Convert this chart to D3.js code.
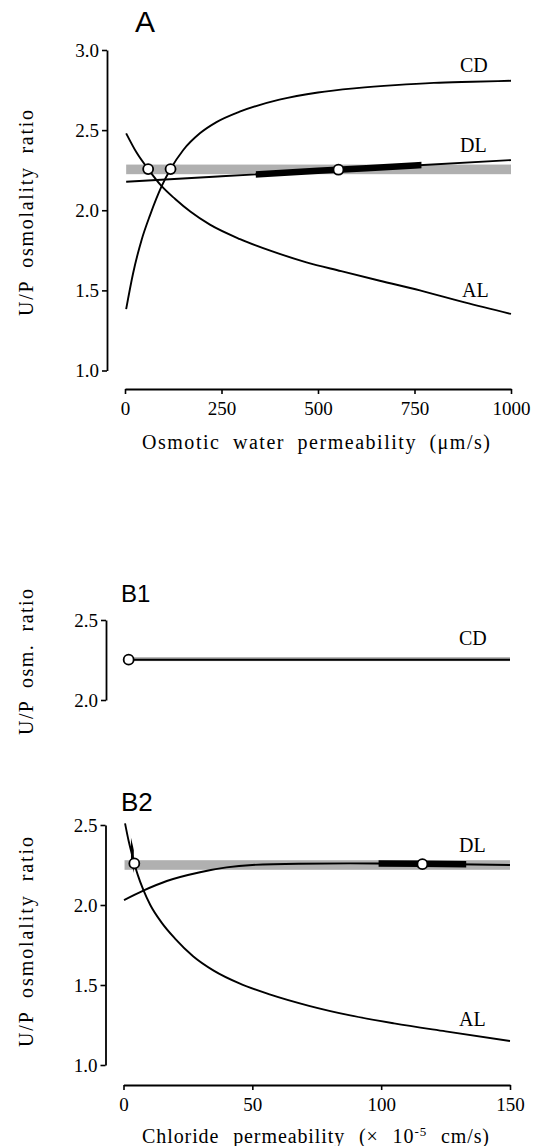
<!DOCTYPE html>
<html><head><meta charset="utf-8">
<script src="https://cdn.jsdelivr.net/npm/d3@7"></script>
<style>body{margin:0;background:#fff} svg{display:block}</style>
</head><body>
<svg id="c" width="535" height="1146"></svg>
<script>
// ---------- Panel A : osmotic water permeability (µm/s) ----------
const A_CD_P = [3,21,43,65,95,118,151,194,237,297,400,500,600,700,800,900,1000];
const A_CD_V = [1.383,1.607,1.815,1.97,2.15,2.257,2.376,2.48,2.55,2.615,2.69,2.735,2.762,2.781,2.795,2.802,2.808];
const A_DL_P = [3,250,500,750,1000];
const A_DL_V = [2.178,2.212,2.246,2.279,2.313];
const A_AL_P = [3,30,60,95,130,170,220,298,380,470,560,660,764,880,1000];
const A_AL_V = [2.48,2.36,2.257,2.15,2.07,1.99,1.91,1.82,1.745,1.675,1.62,1.56,1.50,1.425,1.353];
const A_BAND = [2.225, 2.285];
const A_BAND_P = [3, 1000];
const A_DL_RANGE = [339, 768];
const A_PTS_P = [60, 118, 553];
const A_PTS_V = [2.257, 2.257, 2.253];
const A_XTICKS = [0, 250, 500, 750, 1000];
const A_YTICKS = [1.0, 1.5, 2.0, 2.5, 3.0];

// ---------- Panel B1 : CD vs chloride permeability ----------
const B1_CD_P = [2, 150];
const B1_CD_V = [2.252, 2.252];
const B1_BAND = [2.243, 2.268];
const B1_PTS_P = [2];
const B1_PTS_V = [2.252];
const B1_YTICKS = [2.0, 2.5];

// ---------- Panel B2 : DL / AL vs chloride permeability ----------
const B2_DL_P = [0.2, 7.7, 16.8, 29.7, 40, 50, 68, 88, 116, 150];
const B2_DL_V = [2.031, 2.09, 2.15, 2.205, 2.235, 2.25, 2.258, 2.26, 2.258, 2.25];
const B2_AL_P = [0.6, 2, 3.4, 4.2, 5.5, 7.7, 10.4, 14.8, 20, 27, 35, 45, 57, 72, 88, 105, 125, 150];
const B2_AL_V = [2.51, 2.40, 2.31, 2.26, 2.19, 2.094, 2.0, 1.89, 1.79, 1.68, 1.59, 1.51, 1.44, 1.37, 1.31, 1.26, 1.21, 1.15];
const B2_BAND = [2.22, 2.28];
const B2_BAND_P = [0.4, 150];
const B2_DL_RANGE = [99, 133];
const B2_AL_RANGE = [2.9, 4.0];
const B2_PTS_P = [4.2, 116];
const B2_PTS_V = [2.26, 2.255];
const B_XTICKS = [0, 50, 100, 150];
const B2_YTICKS = [1.0, 1.5, 2.0, 2.5];

const SERIF = '"Liberation Serif","Times New Roman",serif';
const SANS = '"Liberation Sans",Arial,sans-serif';
const svg = d3.select('#c');
const zip = (P, V) => P.map((p, i) => ({p, v: V[i]}));

// scales
const xA = d3.scaleLinear().domain([0, 1000]).range([125, 511]);
const yA = d3.scaleLinear().domain([1, 3]).range([370.5, 50]);
const xB = d3.scaleLinear().domain([0, 150]).range([123.5, 510]);
const yB1 = d3.scaleLinear().domain([2, 2.5]).range([700, 620]);
const yB2 = d3.scaleLinear().domain([1, 2.5]).range([1065, 825]);

let clipId = 0;
function curve(g, x, y, data, width, range) {
  const line = d3.line().x(d => x(d.p)).y(d => y(d.v)).curve(d3.curveMonotoneX);
  const path = g.append('path').datum(data).attr('d', line)
    .attr('fill', 'none').attr('stroke', '#000').attr('stroke-width', width);
  if (range) {
    const id = 'clip' + (clipId++);
    svg.append('clipPath').attr('id', id).append('rect')
      .attr('x', x(range[0])).attr('width', x(range[1]) - x(range[0]))
      .attr('y', 0).attr('height', 1146);
    path.attr('clip-path', `url(#${id})`);
  }
}
function band(g, x, y, b, pr) {
  g.append('rect').attr('x', x(pr[0])).attr('width', x(pr[1]) - x(pr[0]))
    .attr('y', y(b[1])).attr('height', y(b[0]) - y(b[1])).attr('fill', '#b0b0b0');
}
function points(g, x, y, P, V) {
  g.selectAll(null).data(zip(P, V)).enter().append('circle')
    .attr('cx', d => x(d.p)).attr('cy', d => y(d.v)).attr('r', 5)
    .attr('fill', '#fff').attr('stroke', '#000').attr('stroke-width', 1.8);
}
function yAxis(x0, y, ticks) {
  const g = svg.append('g').attr('transform', `translate(${x0},0)`)
    .call(d3.axisLeft(y).tickValues(ticks).tickSize(5).tickSizeOuter(0).tickPadding(3).tickFormat(d3.format('.1f')));
  style(g);
}
function xAxis(y0, x, ticks) {
  const g = svg.append('g').attr('transform', `translate(0,${y0})`)
    .call(d3.axisBottom(x).tickValues(ticks).tickSize(5).tickSizeOuter(0).tickPadding(7.5).tickFormat(d3.format('d')));
  style(g);
}
function style(g) {
  g.select('.domain').attr('stroke', '#000').attr('stroke-width', 1.8);
  g.selectAll('.tick line').attr('stroke', '#000').attr('stroke-width', 1.6);
  g.selectAll('.tick text').attr('fill', '#000').style('font-family', SERIF).style('font-size', '19px');
}
function label(x, y, t, size) {
  svg.append('text').attr('x', x).attr('y', y).text(t)
    .style('font-family', SERIF).style('font-size', (size || 20) + 'px').attr('fill', '#000');
}
function title(x, y, t, size) {
  svg.append('text').attr('x', x).attr('y', y).text(t)
    .style('font-family', SANS).style('font-size', size + 'px').attr('fill', '#000');
}
function yTitle(cx, cy, t, len) {
  svg.append('text').attr('transform', `translate(${cx},${cy}) rotate(-90)`)
    .attr('text-anchor', 'middle').attr('textLength', len).attr('lengthAdjust', 'spacing')
    .style('font-family', SERIF).style('font-size', '20px').style('word-spacing', '6px')
    .attr('fill', '#000').text(t);
}

// ---------- Panel A ----------
const gA = svg.append('g');
band(gA, xA, yA, A_BAND, A_BAND_P);
curve(gA, xA, yA, zip(A_CD_P, A_CD_V), 1.9);
curve(gA, xA, yA, zip(A_AL_P, A_AL_V), 1.9);
curve(gA, xA, yA, zip(A_DL_P, A_DL_V), 1.9);
curve(gA, xA, yA, zip(A_DL_P, A_DL_V), 6.5, A_DL_RANGE);
points(gA, xA, yA, A_PTS_P, A_PTS_V);
yAxis(107, yA, A_YTICKS);
xAxis(389, xA, A_XTICKS);
label(460, 72, 'CD');
label(460, 152, 'DL');
label(462, 297, 'AL');
title(135, 32, 'A', 30);
yTitle(33, 213, 'U/P osmolality ratio', 206);
svg.append('text').attr('x', 316).attr('y', 449).attr('text-anchor', 'middle')
  .attr('textLength', 348).attr('lengthAdjust', 'spacing')
  .style('font-family', SERIF).style('font-size', '20px').style('word-spacing', '6px')
  .attr('fill', '#000').text('Osmotic water permeability (\u03bcm/s)');

// ---------- Panel B1 ----------
const gB1 = svg.append('g');
band(gB1, xB, yB1, B1_BAND, B1_CD_P);
curve(gB1, xB, yB1, zip(B1_CD_P, B1_CD_V), 1.9);
points(gB1, xB, yB1, B1_PTS_P, B1_PTS_V);
yAxis(106, yB1, B1_YTICKS);
label(459, 645, 'CD');
title(121, 602, 'B1', 24);
yTitle(33, 662, 'U/P osm. ratio', 146);

// ---------- Panel B2 ----------
const gB2 = svg.append('g');
band(gB2, xB, yB2, B2_BAND, B2_BAND_P);
curve(gB2, xB, yB2, zip(B2_DL_P, B2_DL_V), 1.9);
curve(gB2, xB, yB2, zip(B2_AL_P, B2_AL_V), 1.9);
curve(gB2, xB, yB2, zip(B2_DL_P, B2_DL_V), 6.5, B2_DL_RANGE);
curve(gB2, xB, yB2, zip(B2_AL_P, B2_AL_V), 6, B2_AL_RANGE);
points(gB2, xB, yB2, B2_PTS_P, B2_PTS_V);
yAxis(105.5, yB2, B2_YTICKS);
xAxis(1085, xB, B_XTICKS);
label(459, 852, 'DL');
label(459, 1026, 'AL');
title(121, 811, 'B2', 26);
yTitle(33, 942, 'U/P osmolality ratio', 210);
const xt = svg.append('text').attr('x', 316).attr('y', 1143).attr('text-anchor', 'middle')
  .style('font-family', SERIF).style('font-size', '20px').style('word-spacing', '8px')
  .style('letter-spacing', '0.9px').attr('fill', '#000');
xt.append('tspan').text('Chloride permeability (\u00d7 10');
xt.append('tspan').attr('dy', -7).style('font-size', '13px').text('-5');
xt.append('tspan').attr('dy', 7).text(' cm/s)');
</script>
</body></html>
